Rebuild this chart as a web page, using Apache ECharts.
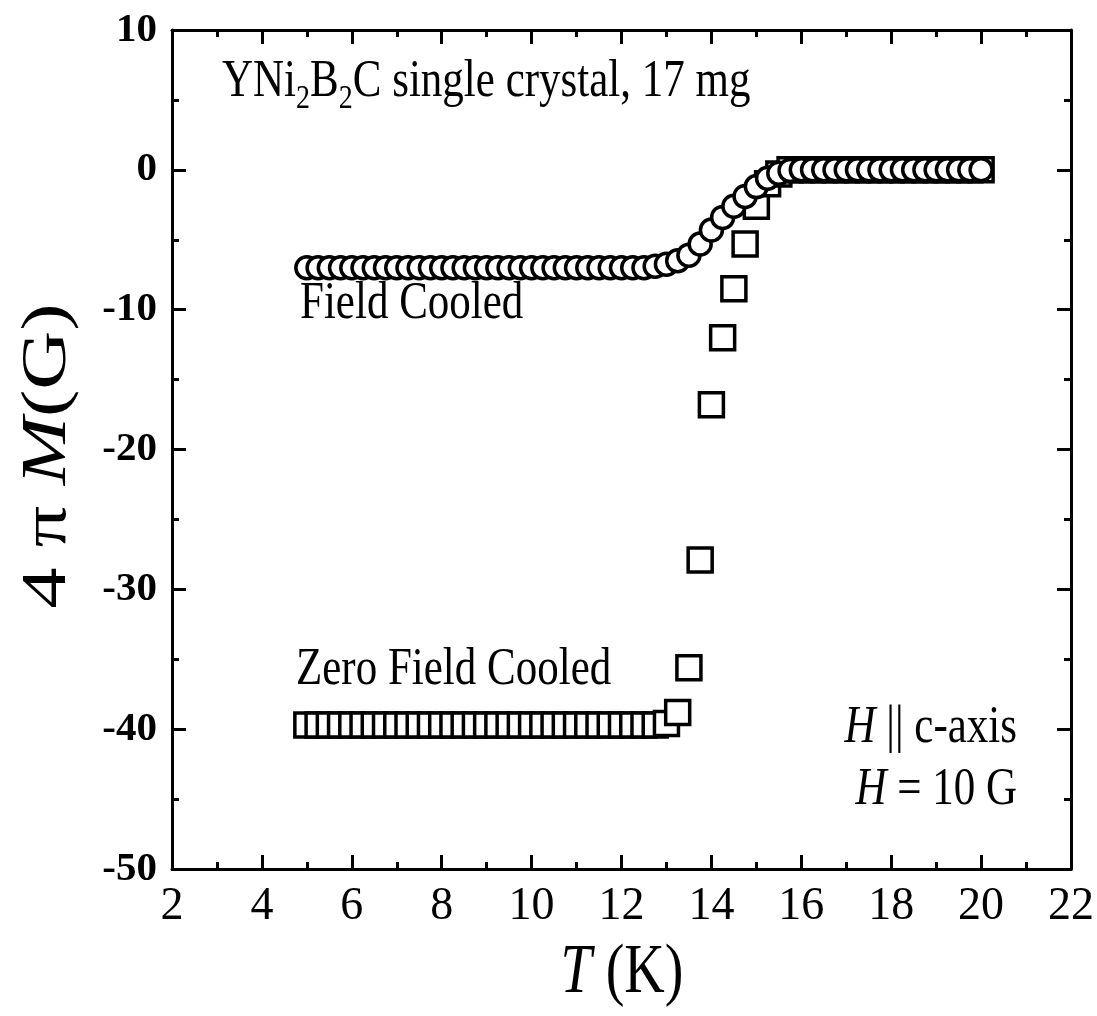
<!DOCTYPE html>
<html>
<head>
<meta charset="utf-8">
<title>YNi2B2C magnetization</title>
<script src="https://cdn.jsdelivr.net/npm/echarts@6/dist/echarts.min.js"></script>
<style>
  html, body { margin: 0; padding: 0; background: #fff; }
  #chart { width: 1097px; height: 1016px; }
</style>
</head>
<body>
<div id="chart"></div>
<script>
// Field-cooled magnetization, 4πM (G) vs T (K)
const fcT = [
  5.0, 5.25, 5.5, 5.75, 6.0, 6.25, 6.5, 6.75, 7.0, 7.25, 7.5, 7.75,
  8.0, 8.25, 8.5, 8.75, 9.0, 9.25, 9.5, 9.75, 10.0, 10.25, 10.5, 10.75,
  11.0, 11.25, 11.5, 11.75, 12.0, 12.25, 12.5, 12.75, 13.0, 13.25, 13.5, 13.75,
  14.0, 14.25, 14.5, 14.75, 15.0, 15.25, 15.5, 15.75, 16.0, 16.25, 16.5, 16.75,
  17.0, 17.25, 17.5, 17.75, 18.0, 18.25, 18.5, 18.75, 19.0, 19.25, 19.5, 19.75, 20.0
];
const fcM = [
  -7.0, -7.0, -7.0, -7.0, -7.0, -7.0, -7.0, -7.0, -7.0, -7.0, -7.0, -7.0,
  -7.0, -7.0, -7.0, -7.0, -7.0, -7.0, -7.0, -7.0, -7.0, -7.0, -7.0, -7.0,
  -7.0, -7.0, -7.0, -7.0, -7.0, -7.0, -7.0, -6.9, -6.75, -6.5, -6.1, -5.3,
  -4.3, -3.4, -2.6, -1.9, -1.2, -0.6, -0.25, -0.05, 0.0, 0.0, 0.0, 0.0,
  0.0, 0.0, 0.0, 0.0, 0.0, 0.0, 0.0, 0.0, 0.0, 0.0, 0.0, 0.0, 0.0
];

// Zero-field-cooled magnetization
const zfcT = [
  5.0, 5.25, 5.5, 5.75, 6.0, 6.25, 6.5, 6.75, 7.0, 7.25, 7.5, 7.75,
  8.0, 8.25, 8.5, 8.75, 9.0, 9.25, 9.5, 9.75, 10.0, 10.25, 10.5, 10.75,
  11.0, 11.25, 11.5, 11.75, 12.0, 12.25, 12.5, 12.75, 13.0, 13.25, 13.5, 13.75,
  14.0, 14.25, 14.5, 14.75, 15.0, 15.25, 15.5, 15.75, 16.0, 16.25, 16.5, 16.75,
  17.0, 17.25, 17.5, 17.75, 18.0, 18.25, 18.5, 18.75, 19.0, 19.25, 19.5, 19.75, 20.0
];
const zfcM = [
  -39.7, -39.7, -39.7, -39.7, -39.7, -39.7, -39.7, -39.7, -39.7, -39.7, -39.7, -39.7,
  -39.7, -39.7, -39.7, -39.7, -39.7, -39.7, -39.7, -39.7, -39.7, -39.7, -39.7, -39.7,
  -39.7, -39.7, -39.7, -39.7, -39.7, -39.7, -39.7, -39.7, -39.6, -38.8, -35.6, -27.9,
  -16.8, -12.0, -8.5, -5.3, -2.6, -1.0, -0.3, 0.0, 0.0, 0.0, 0.0, 0.0,
  0.0, 0.0, 0.0, 0.0, 0.0, 0.0, 0.0, 0.0, 0.0, 0.0, 0.0, 0.0, 0.0
];

// Axis ranges
const xRange = [2, 22];
const yRange = [-50, 10];

const SERIF = '"Liberation Serif", "Times New Roman", serif';
const ink = '#000';
// the lettering of this figure is drawn slightly tall
const STRETCH = 1.22;

const pair = (xs, ys) => xs.map((x, i) => [x, ys[i]]);

const tickCommon = {
  axisLine: { show: true, onZero: false, lineStyle: { color: ink, width: 3 } },
  axisTick: { show: true, inside: true, length: 14, lineStyle: { color: ink, width: 3 } },
  minorTick: { show: true, splitNumber: 2, length: 7, lineStyle: { color: ink, width: 3 } },
  splitLine: { show: false },
  minorSplitLine: { show: false }
};

const chart = echarts.init(document.getElementById('chart'), null, { renderer: 'canvas' });

const richBody = (size) => ({
  n: { fontFamily: SERIF, fontSize: size, fill: ink },
  i: { fontFamily: SERIF, fontSize: size, fontStyle: 'italic', fill: ink }
});

// serif text element (rich tokens for italics and subscripts)
function label(x, y, text, rich, align, extra) {
  return Object.assign({
    type: 'text', x: x, y: y, z: 10,
    scaleY: STRETCH,
    style: {
      text: text, rich: rich, fill: ink,
      font: (rich ? '12px ' : '43px ') + SERIF,
      textAlign: align || 'left', textVerticalAlign: 'middle'
    }
  }, extra || {});
}

chart.setOption({
  animation: false,
  backgroundColor: '#fff',
  grid: { left: 172, right: 26, top: 30, bottom: 147, containLabel: false },
  xAxis: [
    Object.assign({
      type: 'value', position: 'bottom', min: xRange[0], max: xRange[1], interval: 2,
      axisLabel: { show: true, color: ink, fontFamily: SERIF, fontSize: 46, margin: 15 }
    }, tickCommon),
    Object.assign({
      type: 'value', position: 'top', min: xRange[0], max: xRange[1], interval: 2,
      axisLabel: { show: false }
    }, tickCommon)
  ],
  yAxis: [
    Object.assign({
      type: 'value', position: 'left', min: yRange[0], max: yRange[1], interval: 10,
      axisLabel: { show: true, color: ink, fontFamily: SERIF, fontSize: 41, fontWeight: 'bold', margin: 15 }
    }, tickCommon),
    Object.assign({
      type: 'value', position: 'right', min: yRange[0], max: yRange[1], interval: 10,
      axisLabel: { show: false }
    }, tickCommon)
  ],
  series: [
    {
      name: 'Zero Field Cooled',
      type: 'scatter',
      xAxisIndex: 0, yAxisIndex: 0,
      symbol: 'rect',
      symbolSize: 24,
      itemStyle: { color: '#fff', borderColor: ink, borderWidth: 3.5, opacity: 1 },
      data: pair(zfcT, zfcM),
      z: 2
    },
    {
      name: 'Field Cooled',
      type: 'scatter',
      xAxisIndex: 0, yAxisIndex: 0,
      symbol: 'circle',
      symbolSize: 22,
      itemStyle: { color: '#fff', borderColor: ink, borderWidth: 3.5, opacity: 1 },
      data: pair(fcT, fcM),
      z: 3
    }
  ],
  graphic: [
    // sample
    label(222, 82, '{n|YNi}{s|2}{n|B}{s|2}{n|C single crystal, 17 mg}', {
      n: { fontFamily: SERIF, fontSize: 43, lineHeight: 56, verticalAlign: 'middle', fill: ink },
      s: { fontFamily: SERIF, fontSize: 28, lineHeight: 56, verticalAlign: 'bottom', fill: ink }
    }),
    // curve names
    label(300, 304, 'Field Cooled'),
    label(296, 670, 'Zero Field Cooled'),
    // field orientation and strength
    label(1017, 728, '{i|H}{n| || c-axis}', richBody(43), 'right'),
    label(1017, 790, '{i|H}{n| = 10 G}', richBody(43), 'right'),
    // axis titles
    label(622, 974, '{i|T}{n| (K)}', richBody(56), 'center', { scaleY: 1.25 }),
    label(48, 456, '{n|4 π }{i|M}{n|(G)}', richBody(64), 'center',
      { scaleY: 1, scaleX: 1.28, rotation: Math.PI / 2 })
  ]
});
</script>
</body>
</html>
